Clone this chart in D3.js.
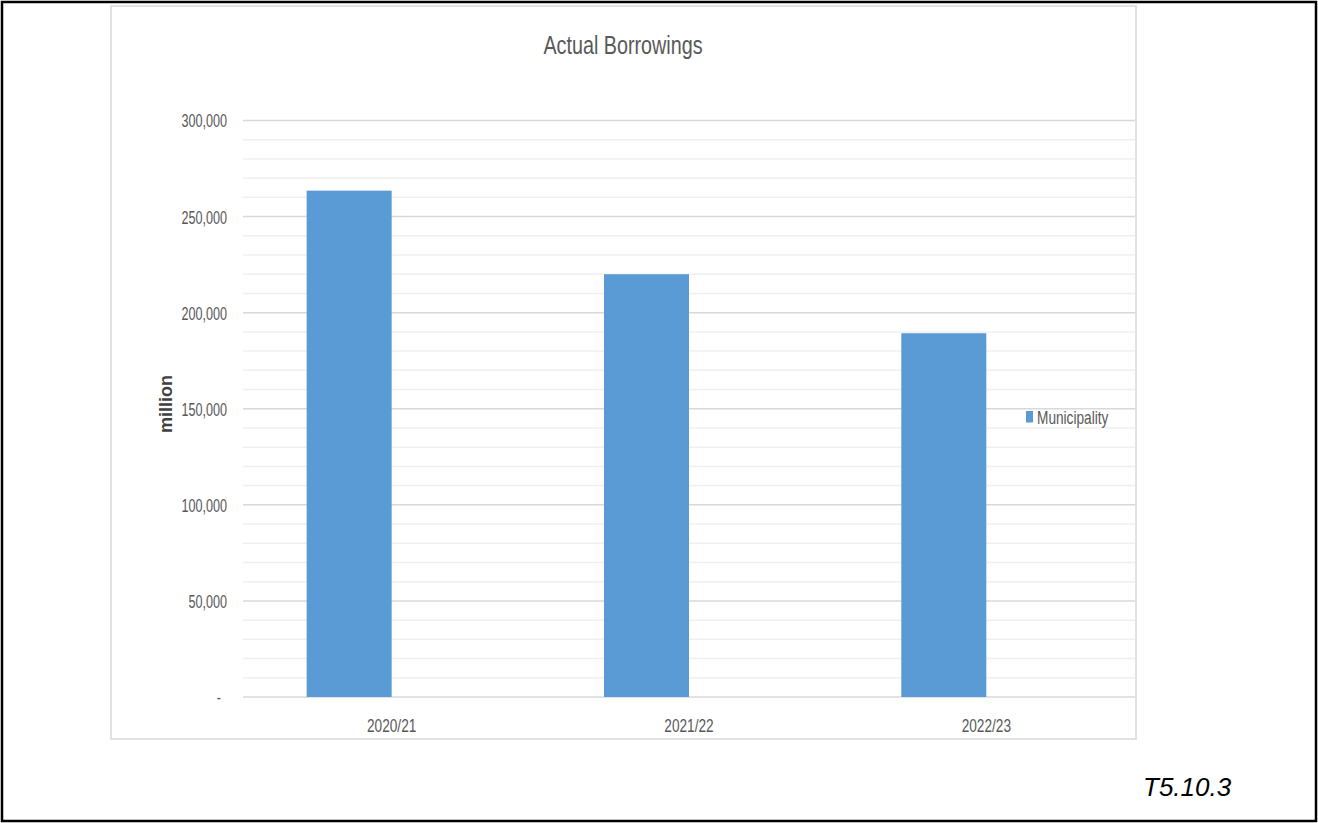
<!DOCTYPE html>
<html>
<head>
<meta charset="utf-8">
<script src="https://cdn.jsdelivr.net/npm/d3@7/dist/d3.min.js"></script>
<style>
  html, body { margin: 0; padding: 0; background: #fff; }
  svg { display: block; }
</style>
</head>
<body>
<svg id="chart" width="1318" height="823"></svg>
<script>
// ---- data ----
const categories = ["2020/21", "2021/22", "2022/23"];
const seriesName = "Municipality";
const borrowings = [263500, 220000, 189300];
const majorTicks = [0, 50000, 100000, 150000, 200000, 250000, 300000];
const titleText = "Actual Borrowings";
const axisTitle = "million";
const figureRef = "T5.10.3";

// ---- layout ----
const W = 1318, H = 823;
const plot = { left: 243, right: 1135, top: 120.5, bottom: 697 };
const chartFont = "'Liberation Sans', Arial, sans-serif";
const squeezeTicks = 0.7;       // condensed lettering used inside the chart
const squeezeText = 0.76;
const barColor = "#5b9bd5";
const textGrey = "#595959";

const svg = d3.select("#chart");

// page frame
svg.append("rect")
  .attr("x", 2).attr("y", 2).attr("width", W - 4).attr("height", H - 4)
  .attr("fill", "#fff").attr("stroke", "#000").attr("stroke-width", 2.5);

// chart frame
svg.append("rect")
  .attr("x", 111).attr("y", 6).attr("width", 1025).attr("height", 733)
  .attr("fill", "#fff").attr("stroke", "#d9d9d9").attr("stroke-width", 1.5);

// ---- scales ----
const y = d3.scaleLinear().domain([0, 300000]).range([plot.bottom, plot.top]);
const x = d3.scaleBand().domain(categories).range([plot.left, plot.right])
  .paddingInner(0.428).paddingOuter(0.214);

// ---- gridlines ----
const minor = y.ticks(30).filter(v => !majorTicks.includes(v));
svg.append("g").selectAll("line").data(minor).join("line")
  .attr("x1", plot.left).attr("x2", plot.right)
  .attr("y1", d => y(d)).attr("y2", d => y(d))
  .attr("stroke", "#f0f0f0").attr("stroke-width", 1.5);
svg.append("g").selectAll("line").data(majorTicks).join("line")
  .attr("x1", plot.left).attr("x2", plot.right)
  .attr("y1", d => y(d)).attr("y2", d => y(d))
  .attr("stroke", "#d9d9d9").attr("stroke-width", 1.5);

// ---- bars (first slot of a two-slot cluster) ----
const rows = categories.map((c, i) => ({ cat: c, value: borrowings[i] }));
svg.append("g").selectAll("rect").data(rows).join("rect")
  .attr("x", d => x(d.cat))
  .attr("width", x.bandwidth() / 2)
  .attr("y", d => y(d.value))
  .attr("height", d => y(0) - y(d.value))
  .attr("fill", barColor);

// ---- y axis ----
const fmt = d3.format(",");
const yAxis = svg.append("g")
  .attr("transform", `translate(${plot.left},0)`)
  .call(d3.axisLeft(y).tickValues(majorTicks).tickSize(0)
    .tickFormat(d => d === 0 ? "-" : fmt(d)));
yAxis.select(".domain").remove();
yAxis.selectAll("text")
  .attr("x", 0)
  .attr("dy", "0.36em")
  .attr("transform", d => `translate(${d === 0 ? -22 : -16},0) scale(${squeezeTicks},1)`)
  .attr("fill", textGrey)
  .style("font-family", chartFont)
  .style("font-size", "18px");

// ---- x axis ----
const xAxis = svg.append("g")
  .attr("transform", `translate(0,${plot.bottom})`)
  .call(d3.axisBottom(x).tickSize(0));
xAxis.select(".domain").remove();
xAxis.selectAll("text")
  .attr("y", 0).attr("dy", 0)
  .attr("transform", `translate(0,35) scale(${squeezeText},1)`)
  .attr("fill", textGrey)
  .style("font-family", chartFont)
  .style("font-size", "18px");

// ---- title ----
svg.append("text")
  .attr("transform", `translate(623,54) scale(${squeezeText},1)`)
  .attr("text-anchor", "middle")
  .attr("fill", textGrey)
  .style("font-family", chartFont)
  .style("font-size", "26px")
  .text(titleText);

// ---- axis title ----
svg.append("text")
  .attr("transform", "translate(172,404) rotate(-90)")
  .attr("text-anchor", "middle")
  .attr("fill", "#404040")
  .style("font-family", "'Liberation Sans', Arial, sans-serif")
  .style("font-weight", "bold")
  .style("font-size", "18px")
  .text(axisTitle);

// ---- legend ----
const legend = svg.append("g").attr("transform", "translate(1026,411)");
legend.append("rect").attr("width", 7).attr("height", 11.5).attr("fill", barColor);
legend.append("text")
  .attr("transform", `translate(11,12.5) scale(${squeezeText},1)`)
  .attr("fill", textGrey)
  .style("font-family", chartFont)
  .style("font-size", "18px")
  .text(seriesName);

// ---- figure reference ----
svg.append("text")
  .attr("x", 1143).attr("y", 796)
  .attr("fill", "#000")
  .style("font-family", "'Liberation Sans', Arial, sans-serif")
  .style("font-style", "italic")
  .style("font-size", "26px")
  .text(figureRef);
</script>
</body>
</html>
